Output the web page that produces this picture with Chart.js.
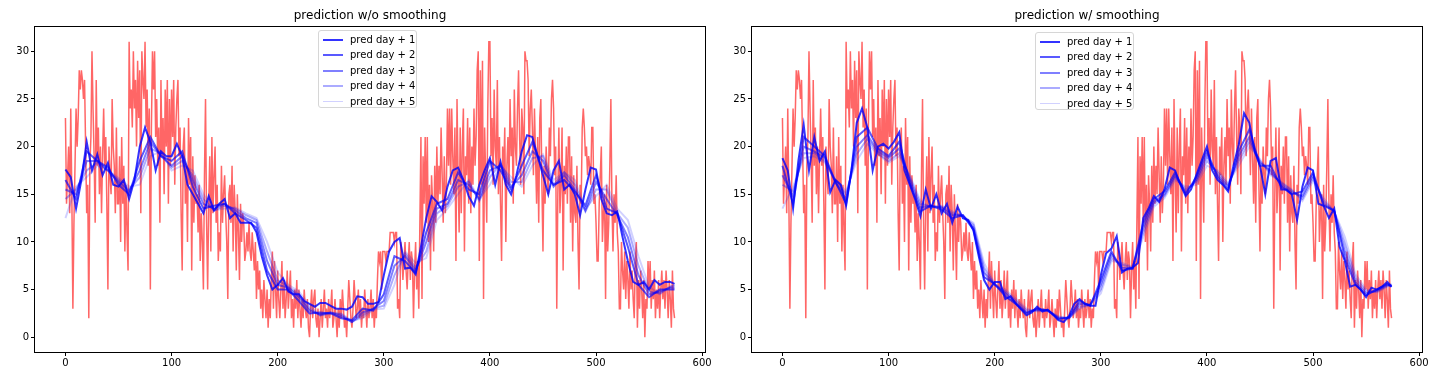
<!DOCTYPE html>
<html>
<head>
<meta charset="utf-8">
<script src="https://cdn.jsdelivr.net/npm/chart.js@4"></script>
<style>
  body { margin: 0; background: #fff; width: 1449px; height: 386px; overflow: hidden; position: relative; font-family: "DejaVu Sans", sans-serif; }
  .box { position: absolute; top: 0; height: 386px; }
  .legend { position: absolute; border: 1px solid #d6d6d6; border-radius: 3px; background: rgba(255,255,255,0.85); font-size: 10px; color: #000; padding: 1px 0 0 0; box-sizing: border-box; }
  .legend .row { height: 15.4px; line-height: 15.4px; position: relative; padding-left: 31px; white-space: nowrap; }
  .legend .swatch { position: absolute; left: 4px; top: 7px; width: 20px; height: 1.8px; }
</style>
</head>
<body>
<div class="box" style="left:0;width:717px"><canvas id="canvas"></canvas></div>
<div class="box" style="left:717px;width:732px"><canvas id="canvas2"></canvas></div>
<div class="legend" id="leg1" style="left:318px;top:30px;width:99px;height:78px"></div>
<div class="legend" id="leg2" style="left:1035px;top:32px;width:99px;height:78px"></div>
<script>
// actual values, one per day (0..574)
var actual = [
  23,14,17,20,13,24,15,3,12,18,24,20,23,28,26,28,27,25,27,20,13,16,2,18,21,
  30,24,19,12,27,18,22,15,20,13,19,24,18,21,14,5,20,17,15,25,20,18,13,22,14,
  14,19,10,21,14,18,9,16,11,7,31,24,26,22,30,24,27,20,29,23,28,13,30,27,25,
  31,22,26,18,24,5,22,30,26,30,21,25,18,22,12,27,19,23,15,26,20,27,14,25,18,
  26,21,27,16,22,25,27,19,22,13,7,20,22,14,18,10,23,16,21,7,19,12,17,14,15,
  11,16,8,13,10,5,17,25,12,5,14,19,9,21,13,17,20,12,16,8,11,9,18,12,15,
  17,13,10,4,15,16,12,18,9,16,13,7,15,11,6,14,10,13,12,8,9,11,9,12,9,
  8,11,9,7,10,4,8,5,7,3,5,2,6,4,2,5,1,4,2,6,9,3,8,5,2,
  7,4,2,5,8,3,6,2,4,7,3,5,7,2,4,1,5,3,6,2,5,3,1,4,2,
  5,3,2,4,1,0,3,5,2,4,5,2,1,3,0,2,4,1,3,5,2,3,1,4,2,
  3,5,1,2,4,2,0,3,1,4,2,5,3,1,2,0,3,6,4,2,1,3,6,4,2,
  3,5,2,4,1,3,2,5,3,1,4,2,3,5,2,4,1,3,2,6,9,8,9,5,9,
  9,9,8,9,9,9,11,11,11,11,10,11,11,3,4,2,10,9,6,8,10,7,5,8,10,
  6,9,8,2,7,10,5,8,3,12,21,4,19,14,21,12,21,10,16,7,17,14,9,18,12,
  20,14,18,15,22,17,12,19,13,16,24,18,24,16,24,19,15,22,8,25,17,11,22,13,20,
  24,9,19,17,23,14,22,13,20,16,24,18,21,28,30,8,28,16,29,4,22,17,12,24,31,
  31,19,23,16,26,20,18,27,15,21,14,8,20,17,22,10,18,21,16,25,19,22,14,26,20,
  18,24,28,21,16,24,22,15,30,29,29,27,19,24,26,22,17,24,19,14,21,12,23,25,16,
  9,18,14,20,17,15,22,19,25,27,24,17,20,3,15,22,13,16,22,7,18,15,20,14,21,
  21,12,19,9,17,13,12,18,10,5,16,14,22,24,22,19,20,17,19,18,16,22,22,14,15,
  12,8,8,14,17,20,10,13,15,4,16,9,12,18,25,14,9,15,12,17,11,9,3,3,10,
  7,5,9,4,8,6,3,9,5,7,4,2,8,10,1,6,3,7,5,2,6,0,4,3,8,
  5,8,3,6,4,7,2,5,3,6,2,5,7,4,6,3,7,5,2,6,4,1,7,3,2
];

// sample days for the prediction lines
var days5 = [];
for (let d = 0; d <= 570; d += 5) { days5.push(d); }
days5.push(574);
var days10 = [];
for (let d = 0; d <= 570; d += 10) { days10.push(d); }
days10.push(574);

// left plot: w/o smoothing (day+1 every 5 days, others every 10 days)
var rawPred1 = [
  17.6,16.8,13.5,16.5,20.5,17.5,19.2,17.0,18.3,16.0,
  15.8,16.5,14.5,16.5,20.0,22.0,20.5,17.5,19.5,19.0,
  19.0,20.3,19.0,16.0,15.0,14.0,13.0,14.8,13.3,14.0,
  14.5,12.5,13.0,12.0,12.0,12.0,11.0,8.5,6.5,5.0,
  5.5,6.2,4.8,4.5,4.5,3.8,3.5,3.2,3.6,3.6,
  3.3,3.0,3.0,2.9,3.2,4.3,4.2,3.5,3.5,3.7,
  6.5,9.0,10.0,10.4,7.2,7.3,6.6,9.5,12.5,14.8,
  14.2,13.3,15.8,17.5,17.8,16.5,14.8,13.8,16.0,17.5,
  18.8,16.0,18.4,16.0,15.0,17.0,19.5,21.2,21.0,19.0,
  17.0,15.0,17.5,18.5,15.5,16.0,15.0,12.8,15.5,17.8,
  17.6,14.5,13.0,12.8,13.2,10.5,8.0,5.8,5.5,5.8,
  5.0,6.0,5.5,5.8,5.8,5.6
];
var rawPred2 = [
  16.5,14.5,19.5,18.5,17.8,16.0,15.0,18.5,21.0,19.0,
  18.5,19.5,15.8,13.5,13.8,14.0,13.0,12.3,11.5,7.0,
  5.0,5.0,3.8,2.5,2.6,2.5,2.0,1.8,3.0,2.8,
  4.5,8.5,8.0,6.8,11.0,14.0,14.5,17.3,15.5,15.0,
  18.5,17.5,15.5,18.0,20.5,17.5,16.0,16.5,15.3,13.8,
  17.0,13.5,13.0,9.5,5.5,4.2,5.0,5.0,5.0
];
var rawPred3 = [
  15.5,15.0,18.5,18.5,17.5,16.3,15.3,17.5,20.5,19.0,
  18.0,19.0,16.5,14.0,13.5,14.0,13.3,12.5,12.0,8.0,
  5.5,5.2,4.2,2.8,2.4,2.6,2.2,1.6,2.6,3.0,
  3.8,7.5,8.5,7.0,10.0,13.5,14.0,16.5,16.0,14.5,
  17.5,18.0,15.8,17.0,19.5,18.5,15.8,17.0,15.5,13.3,
  16.3,14.5,12.8,10.5,6.5,4.5,4.8,5.2,5.2
];
var rawPred4 = [
  14.5,15.5,17.5,18.3,17.5,16.5,15.5,16.8,19.8,19.3,
  17.8,18.5,17.0,14.5,13.3,13.8,13.5,12.8,12.3,9.0,
  6.0,5.3,4.5,3.0,2.3,2.6,2.4,1.6,2.3,3.0,
  3.3,6.5,8.8,7.3,9.0,13.0,13.8,15.8,16.3,14.3,
  16.8,18.2,16.3,16.3,18.8,19.0,16.0,17.3,16.0,13.2,
  15.5,15.5,13.0,11.5,7.5,4.8,4.6,5.3,5.4
];
var rawPred5 = [
  12.5,15.8,16.8,18.0,17.5,16.7,15.8,16.0,19.0,19.5,
  17.5,18.0,17.5,15.0,13.3,13.5,13.6,13.0,12.5,10.0,
  6.8,5.5,4.8,3.3,2.3,2.5,2.5,1.7,2.0,2.9,
  3.0,5.5,9.0,7.8,8.3,12.3,13.5,15.0,16.5,14.5,
  16.0,18.0,16.8,15.8,18.0,19.2,16.5,17.3,16.5,13.5,
  14.8,16.0,13.5,12.3,8.5,5.3,4.5,5.3,5.5
];

// right plot: w/ smoothing
var smPred1 = [
  18.8,17.5,13.5,18.5,22.3,17.5,21.0,18.5,19.5,15.2,
  16.5,16.0,13.8,17.5,22.5,24.0,22.0,17.5,20.0,20.3,
  19.8,20.5,21.5,17.5,16.0,14.5,12.7,15.5,13.5,15.0,
  13.0,14.0,12.0,13.7,12.5,12.3,11.2,8.5,6.0,5.0,
  5.8,5.8,4.0,4.3,3.5,2.9,2.3,2.6,3.2,2.7,
  2.9,2.4,1.8,1.6,2.2,3.5,4.0,3.5,3.3,3.3,
  6.5,8.8,9.3,10.6,6.8,7.2,7.3,7.8,12.5,13.5,
  14.8,14.2,15.5,17.8,17.5,16.0,14.8,15.5,17.0,18.5,
  20.0,17.5,16.5,16.0,15.3,18.0,20.2,23.5,22.5,19.5,
  18.0,15.0,18.5,18.8,15.5,15.5,15.0,12.3,15.8,17.8,
  17.5,14.0,13.8,12.5,13.5,9.5,8.0,5.3,5.5,5.0,
  4.2,5.2,5.0,5.3,5.8,5.3
];
var smPred2 = [
  18.0,14.0,21.0,20.0,19.0,16.3,14.0,21.0,22.0,19.8,
  19.0,20.5,16.2,13.2,13.8,13.4,12.5,12.8,11.3,6.3,
  5.6,4.3,3.5,2.5,3.0,2.8,1.9,2.1,3.8,3.3,
  6.0,9.0,7.0,7.2,12.0,14.5,15.3,17.3,15.0,16.8,
  19.5,16.8,15.5,19.5,21.8,18.0,18.0,15.8,15.0,15.3,
  17.3,13.8,13.3,8.3,5.5,4.4,5.0,5.6,5.3
];
var smPred3 = [
  17.0,14.8,20.0,19.5,18.8,16.2,14.5,20.0,21.2,19.5,
  18.8,19.8,16.5,13.6,13.8,13.6,12.8,12.8,11.5,6.8,
  5.5,4.6,3.6,2.6,2.9,2.8,2.0,2.0,3.5,3.4,
  5.5,8.7,7.3,7.2,11.5,14.2,15.0,17.0,15.2,16.5,
  19.0,17.0,15.8,19.0,21.0,18.3,17.5,16.0,15.2,14.8,
  17.0,14.0,13.2,9.0,5.8,4.6,4.9,5.5,5.4
];
var smPred4 = [
  16.0,15.3,19.3,19.3,18.5,16.3,15.0,19.2,20.8,19.3,
  18.5,19.3,16.8,14.0,13.7,13.7,13.0,12.7,11.8,7.3,
  5.5,4.8,3.8,2.8,2.8,2.8,2.1,2.0,3.2,3.4,
  5.0,8.3,7.6,7.3,11.0,14.0,14.8,16.8,15.5,16.3,
  18.5,17.3,16.0,18.5,20.5,18.5,17.2,16.2,15.4,14.5,
  16.7,14.3,13.2,9.8,6.2,4.8,4.8,5.4,5.5
];
var smPred5 = [
  13.5,15.8,18.8,19.0,18.3,16.5,15.3,18.5,20.3,19.2,
  18.3,19.0,17.0,14.3,13.6,13.8,13.2,12.7,12.0,7.8,
  5.6,5.0,4.0,3.0,2.7,2.8,2.2,2.0,3.0,3.4,
  4.6,8.0,7.8,7.4,10.5,13.7,14.6,16.5,15.8,16.0,
  18.0,17.5,16.2,18.0,20.0,18.7,17.0,16.3,15.5,14.3,
  16.4,14.6,13.2,10.5,6.6,5.0,4.7,5.3,5.6
];

var xTicks = [0, 100, 200, 300, 400, 500, 600];
var yTicks = [0, 5, 10, 15, 20, 25, 30];
var predLabels = ['pred day + 1', 'pred day + 2', 'pred day + 3', 'pred day + 4', 'pred day + 5'];
var predAlpha = [0.8, 0.65, 0.5, 0.33, 0.18];

const FONT = '"DejaVu Sans", sans-serif';

function pts(xs, ys) {
  return ys.map((v, i) => ({ x: xs[i], y: v }));
}

// full box like matplotlib spines + title centred on the axes
const frame = {
  id: 'frame',
  afterDraw(chart) {
    const a = chart.chartArea, c = chart.ctx;
    c.save();
    c.strokeStyle = '#000';
    c.lineWidth = 1;
    c.strokeRect(Math.round(a.left) - 0.5, Math.round(a.top) - 0.5, Math.round(a.right - a.left) + 1, Math.round(a.bottom - a.top) + 1);
    c.fillStyle = '#000';
    c.font = '12px ' + FONT;
    c.textAlign = 'center';
    c.textBaseline = 'middle';
    c.fillText(chart.options.plugins.frame.title, (a.left + a.right) / 2, 16);
    c.restore();
  }
};

function makeChart(id, title, preds, padRight) {
  var sets = [{
    label: 'actual',
    data: pts(actual.map((v, i) => i), actual),
    borderColor: 'rgba(255,0,0,0.6)',
    borderWidth: 1.5,
    pointRadius: 0,
    order: 10
  }];
  for (let i = 0; i < 5; i++) {
    sets.push({
      label: predLabels[i],
      data: pts(preds[i].length == days5.length ? days5 : days10, preds[i]),
      borderColor: 'rgba(0,0,255,' + predAlpha[i] + ')',
      borderWidth: 2,
      pointRadius: 0,
      order: i
    });
  }
  const ctx = document.getElementById(id);
  new Chart(ctx, {
    type: 'line',
    data: { datasets: sets },
    options: {
      responsive: true,
      maintainAspectRatio: false,
      animation: false,
      layout: { padding: { left: 0, right: padRight, top: 27, bottom: 0 } },
      plugins: {
        legend: { display: false },
        tooltip: { enabled: false },
        title: { display: false },
        frame: { title: title }
      },
      scales: {
        x: {
          type: 'linear',
          min: -28.7,
          max: 602.7,
          afterBuildTicks: s => { s.ticks = xTicks.map(v => ({ value: v })); },
          afterFit: s => { s.height = 34; },
          ticks: { color: '#000', font: { family: FONT, size: 10 }, padding: 1, maxRotation: 0, autoSkip: false },
          grid: { drawOnChartArea: false, drawTicks: true, tickLength: 4, color: '#000' },
          border: { display: false }
        },
        y: {
          min: -1.55,
          max: 32.55,
          afterBuildTicks: s => { s.ticks = yTicks.map(v => ({ value: v })); },
          afterFit: s => { s.width = 35; },
          ticks: { color: '#000', font: { family: FONT, size: 10 }, padding: 2, autoSkip: false },
          grid: { drawOnChartArea: false, drawTicks: true, tickLength: 4, color: '#000' },
          border: { display: false }
        }
      }
    },
    plugins: [frame]
  });
}

makeChart('canvas', 'prediction w/o smoothing', [rawPred1, rawPred2, rawPred3, rawPred4, rawPred5], 12);
makeChart('canvas2', 'prediction w/ smoothing', [smPred1, smPred2, smPred3, smPred4, smPred5], 27);

function buildLegend(id) {
  var el = document.getElementById(id);
  var html = '';
  for (let i = 0; i < 5; i++) {
    html += '<div class="row"><span class="swatch" style="background:rgba(0,0,255,' + predAlpha[i] + ')"></span>' + predLabels[i] + '</div>';
  }
  el.innerHTML = html;
}
buildLegend('leg1');
buildLegend('leg2');
</script>
</body>
</html>
